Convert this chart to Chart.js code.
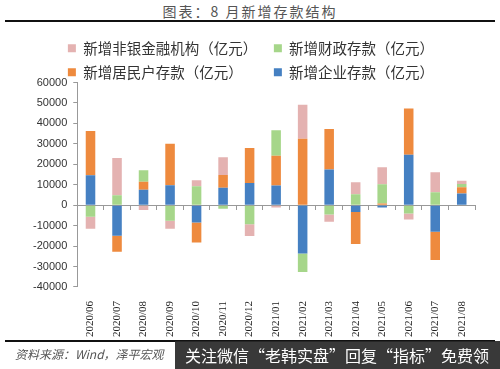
<!DOCTYPE html>
<html>
<head>
<meta charset="utf-8">
<script src="https://cdn.jsdelivr.net/npm/chart.js@4"></script>
<style>
  body { margin: 0; width: 500px; height: 369px; background: #fff; position: relative; overflow: hidden; font-family: "Noto Sans CJK SC", sans-serif; }
  #title { position: absolute; top: 1px; left: 0; width: 500px; text-align: center; font-size: 14px; letter-spacing: 2px; color: #555; line-height: 20px; }
  .rule { position: absolute; left: 5px; width: 490px; height: 2px; background: #111; }
  #wrap { position: absolute; left: 0; top: 22px; width: 500px; height: 321px; }
  #source { position: absolute; left: 15px; top: 345px; font-size: 12px; font-style: italic; color: #555; }
  #mark { position: absolute; left: 175px; top: 341px; width: 325px; height: 28px; background: rgba(40,40,40,0.92); color: #fff; font-size: 16px; line-height: 28px; padding-left: 10px; box-sizing: border-box; white-space: nowrap; }
</style>
</head>
<body>
<div id="title">图表：8 月新增存款结构</div>
<div class="rule" style="top:20px"></div>
<div id="wrap"><canvas id="chart"></canvas></div>
<div class="rule" style="top:340px"></div>
<div id="source">资料来源：Wind，泽平宏观</div>
<div id="mark">关注微信“老韩实盘”回复“指标”免费领</div>
<script>
const months = ['2020/06','2020/07','2020/08','2020/09','2020/10','2020/11','2020/12',
  '2021/01','2021/02','2021/03','2021/04','2021/05','2021/06','2021/07','2021/08'];

// 亿元
const corporate = [14600, -15000, 7600, 9800, -8500, 8500, 10900, 9600, -23600, 17400, -3300, -1100, 24700, -13000, 5700];
const household = [21700, -7800, 3800, 20300, -9700, 6300, 17100, 14600, 32500, 19800, -15700, 800, 22600, -13800, 3100];
const fiscal = [-5700, 4900, 5700, -7600, 9300, -1800, -9300, 12400, -9100, -4600, 5400, 9400, -4100, 6300, 1600];
const nonbank = [-5800, 18200, -2400, -3900, 2900, 8600, -5800, -1100, 16600, -3500, 5800, 8300, -2900, 9800, 1600];

const yTicks = [-40000, -30000, -20000, -10000, 0, 10000, 20000, 30000, 40000, 50000, 60000];

// legend sits tighter on the plot than Chart.js allows by default
const tightLegend = {
  id: 'tightLegend',
  beforeInit(chart) {
    const fit = chart.legend.fit;
    chart.legend.fit = function () {
      fit.call(this);
      this.height -= 7;
    };
  }
};

const ctx = document.getElementById('chart').getContext('2d');
new Chart(ctx, {
  type: 'bar',
  data: {
    labels: months,
    datasets: [
      { label: '新增企业存款（亿元）', data: corporate, backgroundColor: '#4580C2' },
      { label: '新增居民户存款（亿元）　　', data: household, backgroundColor: '#EE8A3E' },
      { label: '新增财政存款（亿元）', data: fiscal, backgroundColor: '#A6D68A' },
      { label: '新增非银金融机构（亿元）　', data: nonbank, backgroundColor: '#E4B2B1' }
    ]
  },
  options: {
    animation: false,
    responsive: true,
    maintainAspectRatio: false,
    layout: { padding: { left: 27, right: 25, top: 9.5, bottom: 0 } },
    datasets: { bar: { categoryPercentage: 1, barPercentage: 0.36 } },
    plugins: {
      legend: {
        position: 'top',
        labels: {
          boxWidth: 8, boxHeight: 8, padding: 9.5,
          color: '#333',
          font: { family: '"Noto Sans CJK SC"', size: 14.5 },
          sort: (a, b) => (3 - a.datasetIndex) - (3 - b.datasetIndex)
        }
      },
      tooltip: { enabled: false }
    },
    scales: {
      x: {
        stacked: true,
        border: { display: false },
        grid: { display: false },
        ticks: {
          minRotation: 90, maxRotation: 90, padding: 6,
          color: '#222', font: { family: '"Liberation Serif"', size: 11 }
        }
      },
      x2: {
        type: 'category',
        labels: months,
        position: { y: 0 },
        offset: true,
        border: { display: true, color: '#999' },
        grid: { offset: true, drawOnChartArea: false, drawTicks: true, tickLength: 4, color: '#999' },
        ticks: { display: false }
      },
      y: {
        stacked: true,
        min: -40000, max: 60000,
        afterBuildTicks: s => { s.ticks = yTicks.map(v => ({ value: v })); },
        border: { display: true, color: '#999' },
        grid: { drawOnChartArea: false, drawTicks: true, tickLength: 4, color: '#999' },
        ticks: {
          color: '#333', padding: 6,
          font: { family: '"Liberation Sans"', size: 11 },
          callback: v => String(v)
        }
      }
    }
  },
  plugins: [tightLegend]
});
</script>
</body>
</html>
